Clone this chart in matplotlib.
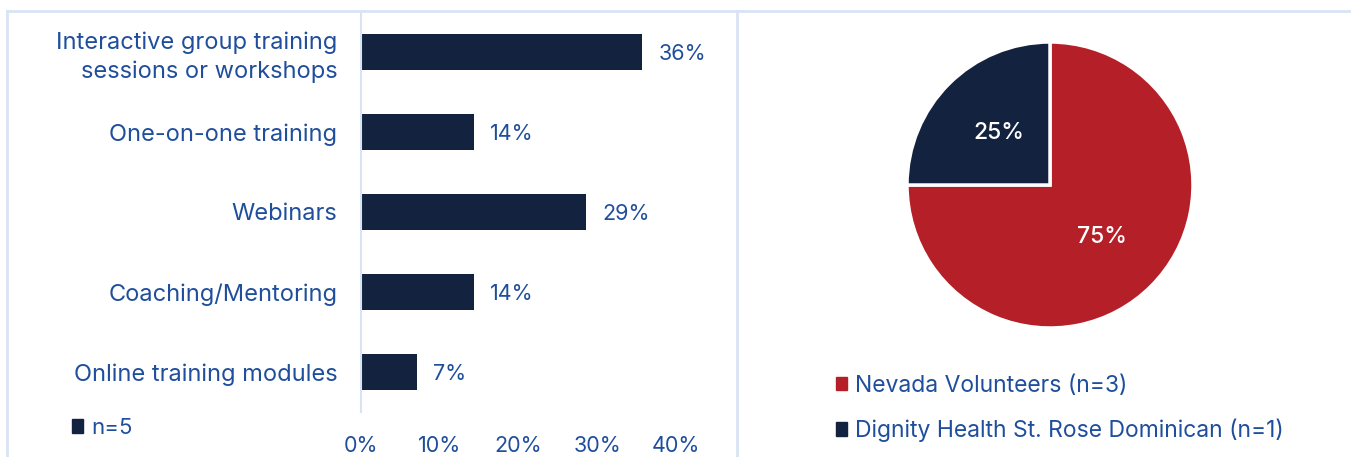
import matplotlib
matplotlib.use("Agg")
from matplotlib import pyplot as plt
from matplotlib.lines import Line2D
from matplotlib.patches import Patch

plt.rcParams['font.family'] = ['Inter', 'DejaVu Sans']

# bar chart data (share of responses, %)
categories = ["Interactive group training\nsessions or workshops", "One-on-one training",
              "Webinars", "Coaching/Mentoring", "Online training modules"]
values = [35.7, 14.3, 28.6, 14.3, 7.1]
bar_labels = ["36%", "14%", "29%", "14%", "7%"]
x_ticks = [0, 10, 20, 30, 40]
bar_legend = "n=5"

# pie data
pie_names = ["Nevada Volunteers (n=3)", "Dignity Health St. Rose Dominican (n=1)"]
pie_values = [75, 25]

navy = "#13233f"
red = "#b51f28"
txt = "#1f4e9c"
border = "#d8e3f4"

W, H = 1351, 457
fig = plt.figure(figsize=(W / 100, H / 100), dpi=100)

# frame lines
fig.add_artist(Line2D([7 / W, 1], [1 - 11 / H] * 2, color=border, lw=2))
fig.add_artist(Line2D([7 / W] * 2, [0, 1 - 11 / H], color=border, lw=2))
fig.add_artist(Line2D([737 / W] * 2, [0, 1 - 11 / H], color=border, lw=2))

# bar chart
ax = fig.add_axes([361 / W, 45 / H, 315 / W, 400 / H])
ypos = list(range(len(categories)))
ax.barh(ypos, values, height=0.45, color=navy)
for y, v, l in zip(ypos, values, bar_labels):
    ax.text(v + 2.1, y + 0.03, l, va="center", ha="left", fontsize=15.5, color=txt)
ax.set_xlim(0, 40)
ax.set_ylim(len(categories) - 0.5, -0.5)
ax.set_yticks(ypos)
ax.set_yticklabels(categories, fontsize=17, color=txt, linespacing=1.35)
ax.set_xticks(x_ticks)
ax.set_xticklabels([f"{t}%" for t in x_ticks], fontsize=15.5, color=txt)
ax.tick_params(length=0)
ax.tick_params(axis="x", pad=17)
ax.tick_params(axis="y", pad=17)
for s in ["top", "right", "bottom"]:
    ax.spines[s].set_visible(False)
ax.spines["left"].set_color(border)
ax.spines["left"].set_linewidth(1.5)

fig.legend(handles=[Patch(color=navy, label=bar_legend)], loc="center left",
           bbox_to_anchor=(52 / W, 1 - 428 / H), frameon=False, fontsize=16,
           labelcolor=txt, handlelength=0.5, handleheight=0.55, handletextpad=0.35)

# pie chart
pax = fig.add_axes([907 / W, 129 / H, 286 / W, 286 / H])
wedges, _, autot = pax.pie(pie_values, colors=[red, navy], startangle=90, counterclock=False,
                           autopct="%1.0f%%", pctdistance=0.51,
                           wedgeprops=dict(edgecolor="white", linewidth=2.5))
for t in autot:
    t.set_color("white")
    t.set_fontsize(16.5)
    t.set_fontweight("medium")
pax.set_xlim(-1, 1)
pax.set_ylim(-1, 1)
pax.set_aspect("equal")

fig.legend(handles=[Patch(color=red, label=pie_names[0]), Patch(color=navy, label=pie_names[1])],
           loc="upper left", bbox_to_anchor=(815 / W, 1 - 354 / H), frameon=False, fontsize=16.5,
           labelcolor=txt, handlelength=0.5, handleheight=0.55, handletextpad=0.35,
           labelspacing=0.95)

fig.savefig("out.png", dpi=100, facecolor="white")
